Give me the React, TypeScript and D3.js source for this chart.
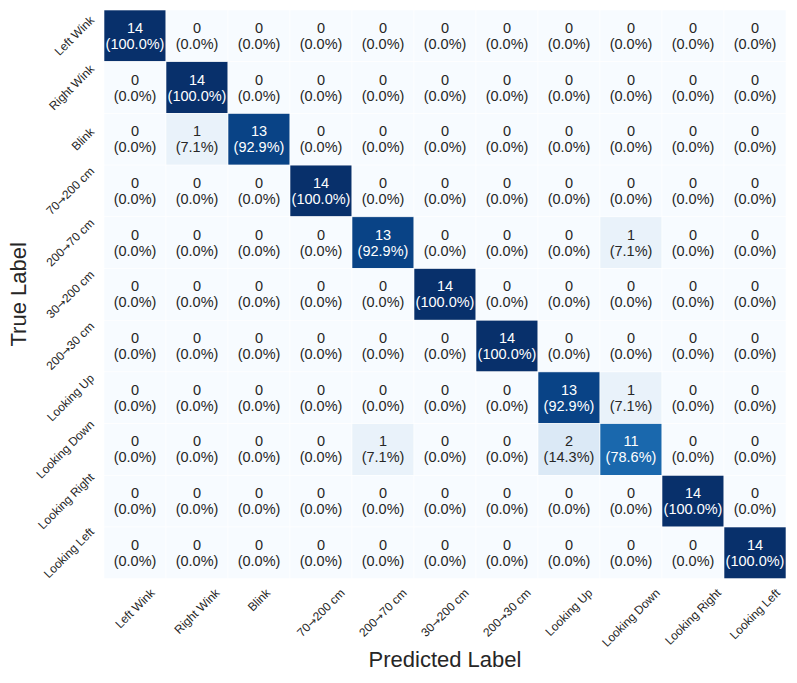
import { useEffect, useRef } from "react";
import * as d3 from "d3";

const labels = [
  "Left Wink",
  "Right Wink",
  "Blink",
  "70→200 cm",
  "200→70 cm",
  "30→200 cm",
  "200→30 cm",
  "Looking Up",
  "Looking Down",
  "Looking Right",
  "Looking Left",
];

// rows = true label, columns = predicted label
const counts = [
  [14, 0, 0, 0, 0, 0, 0, 0, 0, 0, 0],
  [0, 14, 0, 0, 0, 0, 0, 0, 0, 0, 0],
  [0, 1, 13, 0, 0, 0, 0, 0, 0, 0, 0],
  [0, 0, 0, 14, 0, 0, 0, 0, 0, 0, 0],
  [0, 0, 0, 0, 13, 0, 0, 0, 1, 0, 0],
  [0, 0, 0, 0, 0, 14, 0, 0, 0, 0, 0],
  [0, 0, 0, 0, 0, 0, 14, 0, 0, 0, 0],
  [0, 0, 0, 0, 0, 0, 0, 13, 1, 0, 0],
  [0, 0, 0, 0, 1, 0, 0, 2, 11, 0, 0],
  [0, 0, 0, 0, 0, 0, 0, 0, 0, 14, 0],
  [0, 0, 0, 0, 0, 0, 0, 0, 0, 0, 14],
];

const W = 797;
const H = 683;
const FONT = "'Liberation Sans', Arial, Helvetica, sans-serif";
const ARROW_FONT = "'DejaVu Sans', sans-serif";
const TEXT = "#262626";

// split a label around the arrow so the arrow can use a font with a long glyph
const addLabel = (sel: d3.Selection<SVGTextElement, string, any, any>) => {
  sel.each(function (d) {
    const t = d3.select(this);
    const parts = d.split("→");
    parts.forEach((p, k) => {
      if (k > 0) t.append("tspan").attr("font-family", ARROW_FONT).attr("font-size", "0.9em").text("→");
      t.append("tspan").text(p);
    });
  });
};

const App = () => {
  const svgRef = useRef<SVGSVGElement>(null);

  useEffect(() => {
    document.body.style.margin = "0";
    document.body.style.overflow = "hidden";
    if (!svgRef.current) return;

    const svg = d3.select(svgRef.current);
    svg.selectAll("*").remove();

    const left = 104;
    const right = 786;
    const top = 10;
    const bottom = 578.7;

    const x = d3.scaleBand<number>().domain(d3.range(labels.length)).range([left, right]);
    const y = d3.scaleBand<number>().domain(d3.range(labels.length)).range([top, bottom]);
    const vmax = d3.max(counts.flat()) as number;
    const color = d3.scaleSequential(d3.interpolateBlues).domain([0, vmax]);

    const cells = counts.flatMap((row, i) => {
      const total = d3.sum(row);
      return row.map((v, j) => ({ i, j, v, pct: total ? (v / total) * 100 : 0 }));
    });

    const g = svg.append("g");

    g.selectAll("rect")
      .data(cells)
      .join("rect")
      .attr("x", (d) => x(d.j)!)
      .attr("y", (d) => y(d.i)!)
      .attr("width", x.bandwidth())
      .attr("height", y.bandwidth())
      .attr("fill", (d) => color(d.v))
      .attr("stroke", "white")
      .attr("stroke-width", 0.6);

    const txt = g
      .selectAll("text.cell")
      .data(cells)
      .join("text")
      .attr("class", "cell")
      .attr("text-anchor", "middle")
      .attr("font-family", FONT)
      .attr("font-size", 14.5)
      .attr("fill", (d) => (d.v / vmax > 0.5 ? "#ffffff" : TEXT));

    txt
      .append("tspan")
      .attr("x", (d) => x(d.j)! + x.bandwidth() / 2)
      .attr("y", (d) => y(d.i)! + y.bandwidth() / 2 - 8)
      .attr("dominant-baseline", "central")
      .text((d) => d.v);

    txt
      .append("tspan")
      .attr("x", (d) => x(d.j)! + x.bandwidth() / 2)
      .attr("y", (d) => y(d.i)! + y.bandwidth() / 2 + 8)
      .attr("dominant-baseline", "central")
      .text((d) => `(${d.pct.toFixed(1)}%)`);

    // rotated tick labels: place the rotated bounding box like matplotlib does
    const tickSize = 12;
    const boxOf = (node: SVGTextElement) =>
      (node.getComputedTextLength() + tickSize * 1.15) / Math.SQRT2;

    g.selectAll("text.ytick")
      .data(labels)
      .join("text")
      .attr("class", "ytick")
      .attr("text-anchor", "middle")
      .attr("dominant-baseline", "central")
      .attr("font-family", FONT)
      .attr("font-size", tickSize)
      .attr("fill", TEXT)
      .call(addLabel)
      .each(function (_, i) {
        const b = boxOf(this as SVGTextElement);
        const cx = 97 - b / 2;
        const cy = y(i)! + y.bandwidth() / 2;
        d3.select(this).attr("transform", `translate(${cx},${cy}) rotate(-45)`);
      });

    g.selectAll("text.xtick")
      .data(labels)
      .join("text")
      .attr("class", "xtick")
      .attr("text-anchor", "middle")
      .attr("dominant-baseline", "central")
      .attr("font-family", FONT)
      .attr("font-size", tickSize)
      .attr("fill", TEXT)
      .call(addLabel)
      .each(function (_, j) {
        const b = boxOf(this as SVGTextElement);
        const cx = x(j)! + x.bandwidth() / 2;
        const cy = 586 + b / 2;
        d3.select(this).attr("transform", `translate(${cx},${cy}) rotate(-45)`);
      });

    svg
      .append("text")
      .attr("x", (left + right) / 2)
      .attr("y", 667)
      .attr("text-anchor", "middle")
      .attr("font-family", FONT)
      .attr("font-size", 22)
      .attr("fill", TEXT)
      .text("Predicted Label");

    svg
      .append("text")
      .attr("transform", `translate(26,${(top + bottom) / 2}) rotate(-90)`)
      .attr("text-anchor", "middle")
      .attr("font-family", FONT)
      .attr("font-size", 22)
      .attr("fill", TEXT)
      .text("True Label");
  }, []);

  return <svg ref={svgRef} width={W} height={H} style={{ display: "block", background: "white" }} />;
};

export default App;
